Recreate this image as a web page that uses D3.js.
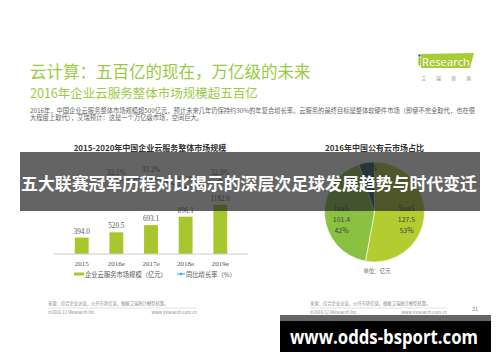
<!DOCTYPE html>
<html><head><meta charset="utf-8">
<script src="https://cdn.jsdelivr.net/npm/d3@7"></script>
<style>
html,body{margin:0;padding:0;background:#fff;}
svg{display:block;font-family:"Noto Sans CJK SC","Noto Sans",sans-serif;}
</style></head>
<body>
<script>
// ---- data ----
const years = ["2015", "2016e", "2017e", "2018e", "2019e"];
const marketSize = [394.0, 520.5, 693.1, 896.1, 1182.6];
const growthRate = [null, 32.1, 33.2, 29.3, 32.0];
const pieLabels = ["SaaS", "IaaS", "PaaS"];
const pieValues = [127.5, 101.4, 12.1];
const piePercent = ["53%", "42%", ""];
const pieColors = ["#b3cd31", "#8bc140", "#165a70"];

const W = 500, H = 362;
const svg = d3.select("body").append("svg").attr("width", W).attr("height", H);
svg.append("rect").attr("width", W).attr("height", H).attr("fill", "#fff");

// ---- header ----
svg.append("text").attr("x", 30).attr("y", 78).attr("font-size", 16.5).attr("fill", "#9acb43")
  .text("云计算：五百亿的现在，万亿级的未来");
svg.append("text").attr("x", 30).attr("y", 97.5).attr("font-size", 12.5).attr("fill", "#9acb43")
  .text("2016年企业云服务整体市场规模超五百亿");
svg.append("text").attr("x", 30).attr("y", 112.5).attr("font-size", 6.3).attr("fill", "#666")
  .attr("textLength", 445).attr("lengthAdjust", "spacingAndGlyphs")
  .text("2016年，中国企业云服务整体市场规模超500亿元，预计未来几年仍保持约30%的年复合增长率。云服务的最终目标是整体软硬件市场（即使不完全取代，也在很");
svg.append("text").attr("x", 30).attr("y", 120).attr("font-size", 6.3).attr("fill", "#666")
  .text("大程度上取代），艾瑞预计：这是一个万亿级市场，空间巨大。");

// logo
svg.append("path").attr("d", "M421,54 L474,53 L470,68 L421,68 Z").attr("fill", "#a6cc38");
svg.append("rect").attr("x", 418.5).attr("y", 57.5).attr("width", 2).attr("height", 8).attr("fill", "#8fbf2e");
svg.append("circle").attr("cx", 419.5).attr("cy", 55.5).attr("r", 1.3).attr("fill", "#1a73c8");
svg.append("text").attr("x", 422).attr("y", 65.5).attr("font-size", 10.5).attr("fill", "#fff")
  .attr("font-family", "Open Sans, sans-serif").attr("textLength", 48).attr("lengthAdjust", "spacingAndGlyphs")
  .text("Research");
svg.append("text").attr("x", 421).attr("y", 80).attr("font-size", 5).attr("fill", "#888")
  .attr("textLength", 50).attr("lengthAdjust", "spacing").text("艾瑞咨询");

// ---- bar chart ----
svg.append("text").attr("x", 150).attr("y", 151).attr("text-anchor", "middle").attr("font-size", 8)
  .attr("font-weight", "bold").attr("fill", "#333").text("2015-2020年中国企业云服务整体市场规模");

const x = d3.scaleBand().domain(years).range([54, 248]).padding(0.6);
const y = d3.scaleLinear().domain([0, 2400]).range([254, 154]);
const yL = d3.scaleLinear().domain([0, 40]).range([267, 159]);

svg.append("g").selectAll("rect").data(years).join("rect")
  .attr("x", d => x(d)).attr("width", x.bandwidth())
  .attr("y", (d, i) => y(marketSize[i])).attr("height", (d, i) => y(0) - y(marketSize[i]))
  .attr("fill", "#a8c62d");
svg.append("g").selectAll("text").data(years).join("text")
  .attr("x", d => x(d) + x.bandwidth() / 2).attr("y", (d, i) => y(marketSize[i]) - 4)
  .attr("text-anchor", "middle").attr("font-size", 7.2).attr("fill", "#555")
  .attr("font-family", "Liberation Serif, serif")
  .text((d, i) => marketSize[i].toFixed(1));

const xAxis = svg.append("g").attr("transform", "translate(0,254)")
  .call(d3.axisBottom(x).tickSize(0).tickPadding(7));
xAxis.select(".domain").attr("stroke", "#ccc").attr("d", "M54,0H248");
xAxis.selectAll("text").attr("font-size", 7).attr("fill", "#555").attr("font-family", "Liberation Serif, serif");

const lineData = years.map((d, i) => ({ d, v: growthRate[i] })).filter(p => p.v != null);
const line = d3.line().x(p => x(p.d) + x.bandwidth() / 2).y(p => yL(p.v));
svg.append("path").datum(lineData).attr("d", line).attr("fill", "none").attr("stroke", "#22b4e6").attr("stroke-width", 1.2);
svg.append("g").selectAll("circle").data(lineData).join("circle")
  .attr("cx", p => x(p.d) + x.bandwidth() / 2).attr("cy", p => yL(p.v)).attr("r", 1.8).attr("fill", "#22b4e6");
svg.append("g").selectAll("text").data(lineData).join("text")
  .attr("x", p => x(p.d) + x.bandwidth() / 2).attr("y", p => yL(p.v) - 5.5)
  .attr("text-anchor", "middle").attr("font-size", 7.2).attr("fill", "#555")
  .attr("font-family", "Liberation Serif, serif").text(p => p.v.toFixed(1) + "%");

// legend
svg.append("rect").attr("x", 74).attr("y", 272.5).attr("width", 10).attr("height", 3).attr("fill", "#a8c62d");
svg.append("text").attr("x", 85).attr("y", 276.5).attr("font-size", 6.3).attr("fill", "#555").text("企业云服务市场规模（亿元）");
svg.append("line").attr("x1", 177).attr("x2", 185).attr("y1", 274).attr("y2", 274).attr("stroke", "#22b4e6").attr("stroke-width", 1);
svg.append("circle").attr("cx", 181).attr("cy", 274).attr("r", 1.3).attr("fill", "#22b4e6");
svg.append("text").attr("x", 186).attr("y", 276.5).attr("font-size", 6.3).attr("fill", "#555").text("同比增长率（%）");

// ---- pie chart ----
svg.append("text").attr("x", 374.5).attr("y", 151).attr("text-anchor", "middle").attr("font-size", 8)
  .attr("font-weight", "bold").attr("fill", "#333").text("2016年中国公有云市场占比");
const cx = 374.5, cy = 212, R = 50;
const pie = d3.pie().sort(null).value(d => d)(pieValues);
const arc = d3.arc().innerRadius(0).outerRadius(R);
const gp = svg.append("g").attr("transform", `translate(${cx},${cy})`);
gp.selectAll("path").data(pie).join("path").attr("d", arc).attr("fill", (d, i) => pieColors[i])
  .attr("stroke", "#fff").attr("stroke-width", 0.6);
const labelPos = [[32, -1], [-33, -1], [-6, -41]];
pie.forEach((p, i) => {
  const [lx, ly] = labelPos[i];
  const t = gp.append("text").attr("text-anchor", "middle").attr("font-size", 7).attr("fill", "#444");
  if (i < 2) {
    t.append("tspan").attr("x", lx).attr("y", ly).text(pieLabels[i]);
    t.append("tspan").attr("x", lx).attr("y", ly + 11).text(pieValues[i].toFixed(1));
    t.append("tspan").attr("x", lx).attr("y", ly + 21.5).text(piePercent[i]);
  } else {
    t.append("tspan").attr("x", lx).attr("y", ly).text(pieLabels[i]);
  }
});
svg.append("text").attr("x", 377).attr("y", 273).attr("text-anchor", "middle").attr("font-size", 5.5)
  .attr("fill", "#666").text("单位：亿元");

// ---- footers ----
function footer(x0, x1) {
  svg.append("text").attr("x", x0).attr("y", 305).attr("font-size", 4.3).attr("fill", "#888")
    .text("来源：综合企业访谈，公开市场信息，根据艾瑞统计模型核算。");
  svg.append("line").attr("x1", x0).attr("x2", x1).attr("y1", 308).attr("y2", 308).attr("stroke", "#ccc").attr("stroke-width", 0.6);
  svg.append("text").attr("x", x0).attr("y", 313.5).attr("font-size", 4.3).attr("fill", "#888").text("©2016.12 iResearch Inc.");
  svg.append("text").attr("x", x1).attr("y", 313.5).attr("text-anchor", "end").attr("font-size", 4.3).attr("fill", "#888").text("www.iresearch.com.cn");
}
footer(48, 197);
footer(310, 447);
svg.append("text").attr("x", 472).attr("y", 311).attr("font-size", 5.5).attr("fill", "#888").text("31");

// ---- overlay banner ----
svg.append("rect").attr("x", 20).attr("y", 152).attr("width", 460).attr("height", 59).attr("fill", "rgba(40,40,40,0.72)");
svg.append("text").attr("x", 21).attr("y", 189.5).attr("font-size", 17).attr("font-weight", "bold").attr("fill", "#fff")
  .attr("textLength", 456).attr("lengthAdjust", "spacingAndGlyphs")
  .text("五大联赛冠军历程对比揭示的深层次足球发展趋势与时代变迁");

// ---- bottom url box ----
svg.append("rect").attr("x", 280).attr("y", 315).attr("width", 211).attr("height", 6).attr("fill", "#666");
svg.append("rect").attr("x", 280).attr("y", 321).attr("width", 211).attr("height", 31).attr("fill", "#000");
svg.append("text").attr("x", 290).attr("y", 343.5).attr("font-size", 20).attr("font-weight", "bold").attr("fill", "#fff")
  .attr("font-family", "Open Sans, sans-serif").attr("textLength", 188).attr("lengthAdjust", "spacingAndGlyphs")
  .text("www.odds-bsport.com");
</script>
</body></html>
